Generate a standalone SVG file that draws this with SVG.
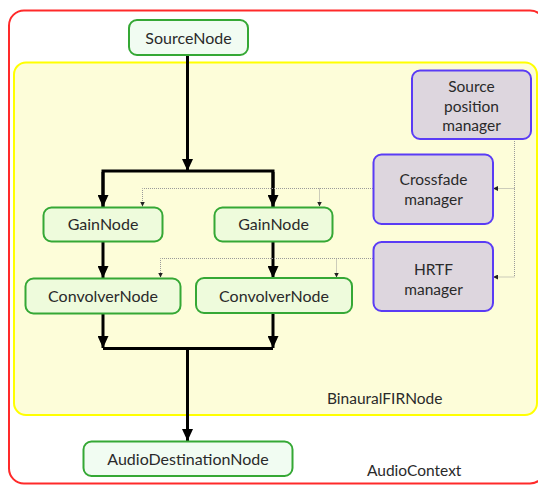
<svg xmlns="http://www.w3.org/2000/svg" width="538" height="486" viewBox="0 0 538 486">
  <defs>
    <style>
      text { font-family: Lato, "Open Sans", "Liberation Sans", sans-serif; fill: #2a2a2a; text-anchor: middle; }
      .lbl { font-size: 16px; }
      .mgr { font-size: 15.5px; }
      .ctx { font-size: 15.5px; text-anchor: start; }
      .audio { fill: #f1fcf2; stroke: #35a835; stroke-width: 2; }
      .proc { fill: #eefbdc; stroke: #35a835; stroke-width: 2; }
      .manager { fill: #ddd6de; stroke: #5a3cf5; stroke-width: 2; }
      .flow { fill: none; stroke: #000; stroke-width: 3; }
      .ctrl { fill: none; stroke: #9a9a9a; stroke-width: 1; stroke-dasharray: 1 1; }
    </style>
    <marker id="head" viewBox="0 0 12 11" refX="12" refY="5.5" markerWidth="12" markerHeight="11" markerUnits="userSpaceOnUse" orient="auto">
      <path d="M0,0 L12,5.5 L0,11 Z" fill="#000"/>
    </marker>
    <marker id="tick" viewBox="0 0 5 5" refX="5" refY="2.5" markerWidth="5" markerHeight="5" markerUnits="userSpaceOnUse" orient="auto">
      <path d="M0,0 L5,2.5 L0,5 Z" fill="#222"/>
    </marker>
  </defs>

  <!-- containers -->
  <g id="audio-context">
    <rect x="9" y="10.5" width="536" height="473" rx="15" fill="#fff" stroke="#ff2a2a" stroke-width="2"/>
    <text class="ctx" x="367" y="476">AudioContext</text>
  </g>
  <g id="binaural-fir-node">
    <rect x="14" y="62.5" width="523" height="352.5" rx="12" fill="#fdfdd9" stroke="#ffff00" stroke-width="2"/>
    <text class="ctx" x="327" y="404">BinauralFIRNode</text>
  </g>

  <!-- connectors -->
  <g id="connectors">
    <!-- audio signal flow -->
    <path class="flow" d="M187.5,55 V171" marker-end="url(#head)"/>
    <path class="flow" d="M103,207 V171 H273 V207" />
    <path class="flow" d="M103,172 V207" marker-end="url(#head)"/>
    <path class="flow" d="M273,172 V207" marker-end="url(#head)"/>
    <path class="flow" d="M103,242 V278" marker-end="url(#head)"/>
    <path class="flow" d="M273,242 V278" marker-end="url(#head)"/>
    <path class="flow" d="M103,314 V348" marker-end="url(#head)"/>
    <path class="flow" d="M273,314 V348" marker-end="url(#head)"/>
    <path class="flow" d="M103,348.5 H273"/>
    <path class="flow" d="M187.5,348.5 V441" marker-end="url(#head)"/>

    <!-- control links -->
    <path class="ctrl" d="M514.5,139 V277"/>
    <path class="ctrl" d="M514.5,188.5 H493" marker-end="url(#tick)"/>
    <path class="ctrl" d="M514.5,277 H493" marker-end="url(#tick)"/>
    <path class="ctrl" d="M373,188.5 H142.5 V206"/>
    <path class="ctrl" d="M142.5,200 V206.5" marker-end="url(#tick)"/>
    <path class="ctrl" d="M319.5,188.5 V206.5" marker-end="url(#tick)"/>
    <path class="ctrl" d="M373,258.5 H160.5 V277.5"/>
    <path class="ctrl" d="M160.5,270 V277.5" marker-end="url(#tick)"/>
    <path class="ctrl" d="M336.5,258.5 V277.5" marker-end="url(#tick)"/>
  </g>

  <!-- nodes -->
  <g id="source-node">
    <rect class="audio" x="129" y="20" width="119" height="35" rx="8"/>
    <text class="lbl" x="188.5" y="43.5">SourceNode</text>
  </g>
  <g id="gain-node-left">
    <rect class="proc" x="43.5" y="207.5" width="119" height="34" rx="8"/>
    <text class="lbl" x="103" y="230">GainNode</text>
  </g>
  <g id="gain-node-right">
    <rect class="proc" x="214.5" y="207.5" width="118" height="34" rx="8"/>
    <text class="lbl" x="273.5" y="230">GainNode</text>
  </g>
  <g id="convolver-node-left">
    <rect class="proc" x="25.5" y="278.5" width="155" height="35" rx="8"/>
    <text class="lbl" x="103" y="301.5">ConvolverNode</text>
  </g>
  <g id="convolver-node-right">
    <rect class="proc" x="196" y="278" width="156" height="35" rx="8"/>
    <text class="lbl" x="274" y="301.5">ConvolverNode</text>
  </g>
  <g id="audio-destination-node">
    <rect class="audio" x="83.5" y="441.5" width="209" height="34.5" rx="8"/>
    <text class="lbl" x="188" y="465">AudioDestinationNode</text>
  </g>
  <g id="source-position-manager">
    <rect class="manager" x="412" y="70.5" width="119" height="68.5" rx="8"/>
    <text class="mgr" x="471.5" y="91.5">Source</text>
    <text class="mgr" x="471.5" y="111.5">position</text>
    <text class="mgr" x="471.5" y="131">manager</text>
  </g>
  <g id="crossfade-manager">
    <rect class="manager" x="373.5" y="154.5" width="119.5" height="69.5" rx="8"/>
    <text class="mgr" x="433.5" y="185">Crossfade</text>
    <text class="mgr" x="433.5" y="205">manager</text>
  </g>
  <g id="hrtf-manager">
    <rect class="manager" x="373.5" y="242" width="119.5" height="69" rx="8"/>
    <text class="mgr" x="433.5" y="275">HRTF</text>
    <text class="mgr" x="433.5" y="295">manager</text>
  </g>
</svg>
